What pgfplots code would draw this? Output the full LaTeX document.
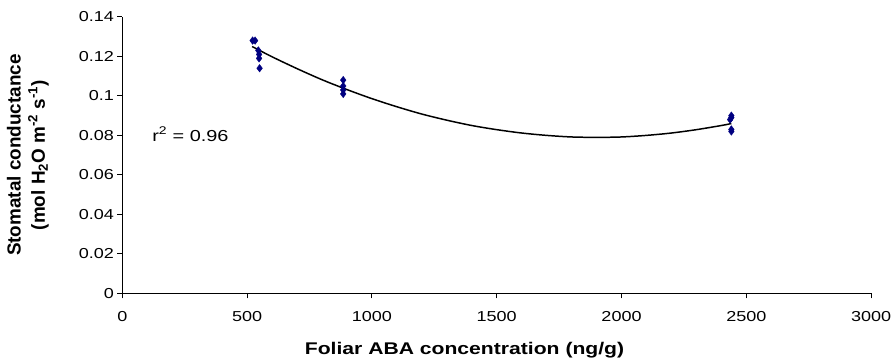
\documentclass[border=0pt]{standalone}
\usepackage{fontspec}
\setmainfont{Liberation Sans}[FakeStretch=1.25]
\newfontfamily\plainfont{Liberation Sans}
\usepackage{pgfplots}
\pgfplotsset{compat=1.18}
\definecolor{navy}{RGB}{0,0,128}
\begin{document}
\begin{tikzpicture}
\useasboundingbox (-123bp,-69bp) rectangle (776bp,295bp);
\begin{axis}[
  at={(0,0)}, anchor=south west,
  scale only axis,
  width=753bp, height=278bp,
  xmin=0, xmax=3000, ymin=0, ymax=0.14,
  xtick={0,500,...,3000},
  ytick={0,0.02,...,0.14},
  yticklabels={0,0.02,0.04,0.06,0.08,0.1,0.12,0.14},
  axis x line*=bottom, axis y line*=left,
  axis line style={-, black, line width=0.9bp},
  tick align=outside,
  major tick length=5bp,
  tick style={black, line width=0.9bp},
  /pgf/number format/assume math mode=true,
  scaled y ticks=false,
  xticklabel style={/pgf/number format/1000 sep={}},
  ticklabel style={font=\fontsize{14.5bp}{18bp}\selectfont},
  xticklabel style={yshift=-10bp},
  xlabel={\textbf{Foliar ABA concentration (ng/g)}},
  xlabel style={font=\fontsize{17bp}{20bp}\selectfont, at={(axis description cs:0.457,-0.205)}, anchor=center},
  ylabel={\plainfont\begin{tabular}{c}\textbf{Stomatal conductance}\\[1bp]\textbf{(mol H\textsubscript{2}O m\textsuperscript{-2} s\textsuperscript{-1})}\end{tabular}},
  ylabel style={font=\fontsize{19bp}{22bp}\selectfont, at={(axis description cs:-0.09,0.5)}, anchor=south},
  clip=false,
]
\addplot[black, line width=1.5bp, smooth] coordinates {
(520,0.1250) (600,0.1198) (700,0.1138) (800,0.1082) (900,0.1032) (1000,0.0986)
(1100,0.0945) (1200,0.0908) (1300,0.0877) (1400,0.0850) (1500,0.0829) (1600,0.0812)
(1700,0.0800) (1800,0.0792) (1900,0.0790) (2000,0.0792) (2100,0.0800) (2200,0.0812)
(2300,0.0829) (2400,0.0850) (2440,0.0860)
};
\addplot[only marks, mark=diamond*, mark size=3.8bp, mark options={fill=navy, draw=navy}] coordinates {
(522,0.128) (532,0.128) (545,0.123) (548,0.121) (548,0.119) (550,0.114)
(885,0.108) (885,0.105) (885,0.103) (885,0.101)
(2440,0.090) (2440,0.089) (2435,0.088) (2440,0.083) (2440,0.082)
};
\node[font=\fontsize{16bp}{19bp}\selectfont] at (axis cs:273,0.0806) {r\textsuperscript{2} = 0.96};
\end{axis}
\end{tikzpicture}
\end{document}
